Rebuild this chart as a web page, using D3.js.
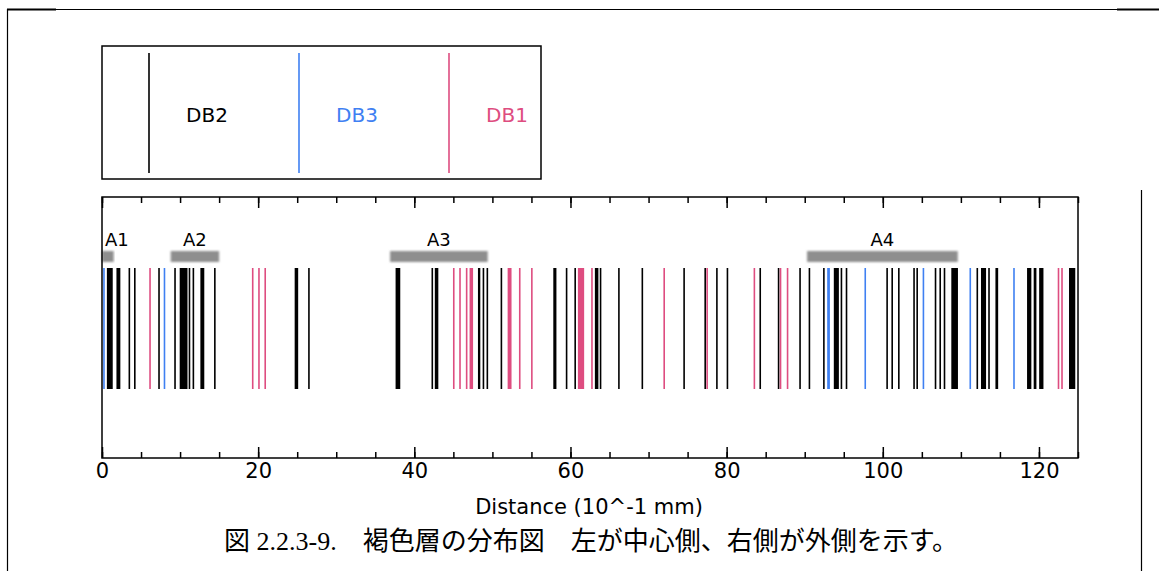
<!DOCTYPE html>
<html>
<head>
<meta charset="utf-8">
<script src="https://cdn.jsdelivr.net/npm/d3@7"></script>
<style>
  body { margin: 0; background: #fff; }
  svg { display: block; }
</style>
</head>
<body>
<div id="chart"></div>
<script>
// layer data: [centre, thickness] in 10^-1 mm
var db2 = [
    [1.0, 0.75], [2.1, 0.5], [3.5, 0.2], [4.2, 0.2], [7.3, 0.2], [9.35, 0.2],
    [10.45, 1.0], [11.2, 0.2], [11.7, 0.2], [12.85, 0.5], [14.45, 0.2],
    [24.9, 0.45], [26.5, 0.2], [37.9, 0.6], [42.3, 0.2], [42.85, 0.45],
    [48.3, 0.3], [48.85, 0.2], [49.35, 0.2], [51.15, 0.2], [58.0, 0.4],
    [59.5, 0.2], [60.6, 0.2], [63.35, 0.45], [63.85, 0.2], [66.2, 0.2],
    [69.2, 0.2], [74.55, 0.2], [77.25, 0.2], [78.75, 0.2], [80.1, 0.2],
    [84.3, 0.2], [86.65, 0.2], [89.4, 0.2], [90.6, 0.2], [92.45, 0.2],
    [94.05, 0.65], [94.7, 0.2], [95.35, 0.2], [100.55, 0.2], [101.2, 0.2],
    [102.05, 0.2], [104.0, 0.2], [104.4, 0.2], [106.75, 0.2], [107.35, 0.2],
    [107.9, 0.2], [109.2, 0.85], [112.1, 0.2], [112.9, 0.65], [113.6, 0.2],
    [114.6, 0.35], [118.75, 0.55], [119.5, 0.35], [120.3, 0.55], [124.25, 0.8]
];
var db3 = [
    [0.25, 0.2], [8.0, 0.2], [93.05, 0.35], [97.75, 0.2], [105.2, 0.2],
    [111.2, 0.2], [116.8, 0.2]
];
var db1 = [
    [6.15, 0.2], [19.3, 0.2], [20.1, 0.2], [20.9, 0.2], [45.05, 0.2],
    [45.85, 0.2], [46.7, 0.2], [47.3, 0.45], [52.2, 0.5], [53.5, 0.2],
    [55.05, 0.2], [61.35, 0.8], [62.75, 0.2], [72.0, 0.2], [77.5, 0.2],
    [83.55, 0.2], [86.9, 0.2], [87.8, 0.2], [122.5, 0.2], [122.95, 0.2]
];
// zones A1..A4: [from, to]
var zoneNames = ['A1', 'A2', 'A3', 'A4'];
var zoneRanges = [[0, 1.5], [8.8, 15.0], [36.9, 49.4], [90.3, 109.6]];

var legendNames = ['DB2', 'DB3', 'DB1'];
var colors = {DB2: '#000000', DB3: '#3f80f2', DB1: '#de4d80'};

var majorTicks = [0, 20, 40, 60, 80, 100, 120];
var minorTicks = d3.range(0, 126, 5);

var width = 1159, height = 571;
var plot = {left: 102, right: 1078, top: 197, bottom: 458};

var svg = d3.select('#chart').append('svg')
    .attr('width', width)
    .attr('height', height);

// soft edge for the grey zone bars
var defs = svg.append('defs');
defs.append('filter').attr('id', 'soft')
    .attr('x', '-10%').attr('y', '-50%').attr('width', '120%').attr('height', '200%')
    .append('feGaussianBlur').attr('stdDeviation', 0.9);

// page frame
var frame = svg.append('g').attr('stroke', '#000').attr('fill', 'none');
frame.append('line').attr('x1', 7).attr('x2', width).attr('y1', 9.5).attr('y2', 9.5).attr('stroke-width', 1);
frame.append('line').attr('x1', 7).attr('x2', 56).attr('y1', 9.5).attr('y2', 9.5).attr('stroke-width', 2);
frame.append('line').attr('x1', 1117).attr('x2', width).attr('y1', 9.5).attr('y2', 9.5).attr('stroke-width', 2);
frame.append('line').attr('x1', 7.5).attr('x2', 7.5).attr('y1', 9).attr('y2', height).attr('stroke-width', 1.2);
frame.append('line').attr('x1', 1141.5).attr('x2', 1141.5).attr('y1', 190).attr('y2', height).attr('stroke-width', 1.2);

var x = d3.scaleLinear().domain([0, 125]).range([plot.left, plot.right]);

// legend box
var legend = svg.append('g');
var lg = {left: 102, right: 541, top: 46, bottom: 179};
legend.append('rect')
    .attr('x', lg.left).attr('y', lg.top)
    .attr('width', lg.right - lg.left).attr('height', lg.bottom - lg.top)
    .attr('fill', 'none').attr('stroke', '#000').attr('stroke-width', 1.5);
var lx = d3.scalePoint().domain(legendNames).range([149, 449]);
legend.selectAll('line.key').data(legendNames).join('line')
    .attr('class', 'key')
    .attr('x1', d => lx(d)).attr('x2', d => lx(d))
    .attr('y1', 53).attr('y2', 173)
    .attr('stroke', d => colors[d]).attr('stroke-width', 1.6);
legend.selectAll('text').data(legendNames).join('text')
    .attr('x', d => lx(d) + 58).attr('y', 122)
    .attr('text-anchor', 'middle')
    .attr('font-family', 'DejaVu Sans, sans-serif').attr('font-size', 20)
    .attr('fill', d => colors[d])
    .text(d => d);

// layers
var layers = [];
db2.forEach(d => layers.push({pos: d[0], w: d[1], type: 'DB2'}));
db3.forEach(d => layers.push({pos: d[0], w: d[1], type: 'DB3'}));
db1.forEach(d => layers.push({pos: d[0], w: d[1], type: 'DB1'}));

svg.append('g').selectAll('rect').data(layers).join('rect')
    .attr('x', d => x(d.pos - d.w / 2))
    .attr('width', d => Math.max(1.6, x(d.w) - x(0)))
    .attr('y', 268).attr('height', 121)
    .attr('fill', d => colors[d.type]);

// zone bars
var zones = zoneNames.map((n, i) => ({name: n, from: zoneRanges[i][0], to: zoneRanges[i][1]}));
var zg = svg.append('g');
zg.selectAll('rect').data(zones).join('rect')
    .attr('x', d => x(d.from)).attr('width', d => x(d.to) - x(d.from))
    .attr('y', 251).attr('height', 11)
    .attr('fill', '#8e8e8e')
    .attr('filter', 'url(#soft)');
zg.selectAll('text').data(zones).join('text')
    .attr('x', d => d.name === 'A1' ? x(d.from) + 3 : x((d.from + d.to) / 2))
    .attr('y', 246)
    .attr('text-anchor', d => d.name === 'A1' ? 'start' : 'middle')
    .attr('font-family', 'DejaVu Sans, sans-serif').attr('font-size', 18)
    .text(d => d.name);

// axes, ticks pointing inward
var axisFont = g => g.selectAll('text')
    .attr('font-family', 'DejaVu Sans, sans-serif').attr('font-size', 21).attr('fill', '#000');

svg.append('g').attr('transform', 'translate(0,' + plot.bottom + ')')
    .call(d3.axisBottom(x).tickValues(minorTicks).tickSize(-6).tickFormat(''))
    .call(g => g.select('.domain').remove());
svg.append('g').attr('transform', 'translate(0,' + plot.bottom + ')')
    .call(d3.axisBottom(x).tickValues(majorTicks).tickSize(-11).tickPadding(3).tickFormat(d3.format('d')))
    .call(g => g.select('.domain').remove())
    .call(g => g.selectAll('text').attr('dy', '0.8em'))
    .call(axisFont);
svg.append('g').attr('transform', 'translate(0,' + plot.top + ')')
    .call(d3.axisTop(x).tickValues(minorTicks).tickSize(-6).tickFormat(''))
    .call(g => g.select('.domain').remove());
svg.append('g').attr('transform', 'translate(0,' + plot.top + ')')
    .call(d3.axisTop(x).tickValues(majorTicks).tickSize(-11).tickFormat(''))
    .call(g => g.select('.domain').remove());
svg.selectAll('.tick line').attr('stroke-width', 1.5);

svg.append('rect')
    .attr('x', plot.left).attr('y', plot.top)
    .attr('width', plot.right - plot.left).attr('height', plot.bottom - plot.top)
    .attr('fill', 'none').attr('stroke', '#000').attr('stroke-width', 1.5);

// axis title and caption
svg.append('text')
    .attr('x', 589).attr('y', 514)
    .attr('text-anchor', 'middle')
    .attr('font-family', 'DejaVu Sans, sans-serif').attr('font-size', 21)
    .text('Distance (10^-1 mm)');

svg.append('text')
    .attr('x', 591).attr('y', 550)
    .attr('text-anchor', 'middle')
    .attr('font-family', 'Liberation Serif, Noto Sans CJK JP, serif').attr('font-size', 26)
    .text('図 2.2.3-9.　褐色層の分布図　左が中心側、右側が外側を示す。');
</script>
</body>
</html>
